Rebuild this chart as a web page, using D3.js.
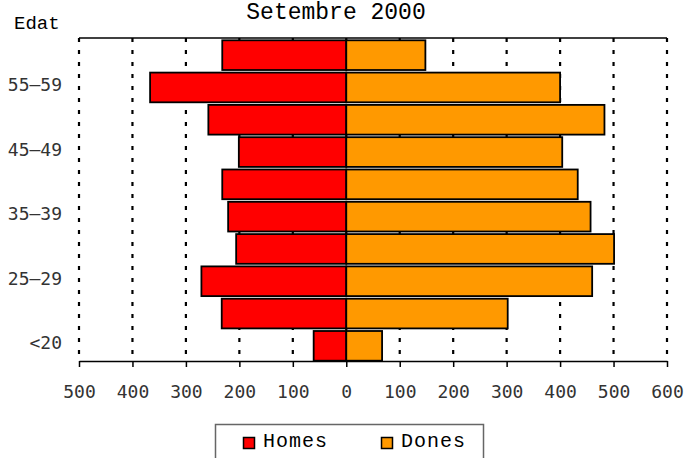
<!DOCTYPE html>
<meta charset="utf-8">
<script src="https://d3js.org/d3.v7.min.js"></script>
<style>
  body { margin: 0; background: #fff; }
</style>
<div id="chart"></div>
<script>
// age groups, bottom to top
const categories = ["<20", "20–24", "25–29", "30–34", "35–39", "40–44", "45–49", "50–54", "55–59", "60–64"];
const homes = [61, 233, 271, 206, 221, 232, 201, 258, 367, 232];
const dones = [67, 302, 460, 501, 457, 433, 404, 483, 400, 148];
const xTicks = [-500, -400, -300, -200, -100, 0, 100, 200, 300, 400, 500, 600];
const yLabels = ["<20", "25–29", "35–39", "45–49", "55–59"];

const W = 687, H = 458;
const plot = {left: 79, right: 667, top: 38, bottom: 361};

const svg = d3.select("#chart").append("svg")
  .attr("width", W)
  .attr("height", H);

const x = d3.scaleLinear().domain([-500, 600]).range([plot.left, plot.right]);
const y = d3.scaleBand()
  .domain(categories.slice().reverse())
  .range([plot.top + 1, plot.bottom + 1])
  .paddingInner(0.08)
  .paddingOuter(0.04);

// title, kept just inside the top edge
svg.append("text")
  .attr("x", 336).attr("y", 19)
  .attr("text-anchor", "middle")
  .style("font-family", "Liberation Mono")
  .style("font-size", "23px")
  .text("Setembre 2000");

svg.append("text")
  .attr("x", 14).attr("y", 29)
  .style("font-family", "Liberation Mono")
  .style("font-size", "19px")
  .text("Edat");

// dotted gridlines
svg.append("g").selectAll("line")
  .data(xTicks)
  .join("line")
    .attr("x1", d => x(d)).attr("x2", d => x(d))
    .attr("y1", plot.top).attr("y2", plot.bottom)
    .attr("stroke", "#000")
    .attr("stroke-width", 2.2)
    .attr("stroke-dasharray", "4,8");

// top border
svg.append("line")
  .attr("x1", plot.left).attr("x2", plot.right)
  .attr("y1", plot.top).attr("y2", plot.top)
  .attr("stroke", "#000").attr("stroke-width", 1.5);

const rows = categories.map((c, i) => ({cat: c, h: homes[i], d: dones[i]}));

svg.append("g").selectAll("rect")
  .data(rows)
  .join("rect")
    .attr("x", d => x(-d.h))
    .attr("width", d => x(0) - x(-d.h))
    .attr("y", d => y(d.cat))
    .attr("height", y.bandwidth())
    .attr("fill", "#ff0000")
    .attr("stroke", "#000")
    .attr("stroke-width", 1.8);

svg.append("g").selectAll("rect")
  .data(rows)
  .join("rect")
    .attr("x", x(0))
    .attr("width", d => x(d.d) - x(0))
    .attr("y", d => y(d.cat))
    .attr("height", y.bandwidth())
    .attr("fill", "#ff9900")
    .attr("stroke", "#000")
    .attr("stroke-width", 1.8);

// x axis
const xAxis = svg.append("g")
  .attr("transform", `translate(0,${plot.bottom})`)
  .call(d3.axisBottom(x)
    .tickValues(xTicks)
    .tickFormat(d => Math.abs(d))
    .tickSize(6)
    .tickSizeOuter(0)
    .tickPadding(18));
xAxis.select(".domain").attr("stroke-width", 1.5);
xAxis.selectAll(".tick line").attr("stroke-width", 1.5);
xAxis.selectAll("text")
  .style("font-family", "DejaVu Sans Mono")
  .style("font-size", "18px")
  .attr("fill", "#333");

// category labels
svg.append("g").selectAll("text")
  .data(yLabels)
  .join("text")
    .attr("x", 62)
    .attr("y", d => y(d) + y.bandwidth() / 2)
    .attr("dy", "0.2em")
    .attr("text-anchor", "end")
    .style("font-family", "DejaVu Sans Mono")
    .style("font-size", "18px")
    .attr("fill", "#333")
    .text(d => d);

// legend
const legend = svg.append("g");
legend.append("rect")
  .attr("x", 215.5).attr("y", 424.5)
  .attr("width", 268).attr("height", 50)
  .attr("fill", "#fff")
  .attr("stroke", "#666").attr("stroke-width", 1.5);

const items = [
  {label: "Homes", color: "#ff0000", x: 243},
  {label: "Dones", color: "#ff9900", x: 381}
];
items.forEach(it => {
  legend.append("rect")
    .attr("x", it.x + 0.5).attr("y", 437.5)
    .attr("width", 11).attr("height", 11)
    .attr("fill", it.color)
    .attr("stroke", "#000").attr("stroke-width", 1.5);
  legend.append("text")
    .attr("x", it.x + 20).attr("y", 447)
    .style("font-family", "Liberation Mono")
    .style("font-size", "20px")
    .style("letter-spacing", "1px")
    .text(it.label);
});
</script>
